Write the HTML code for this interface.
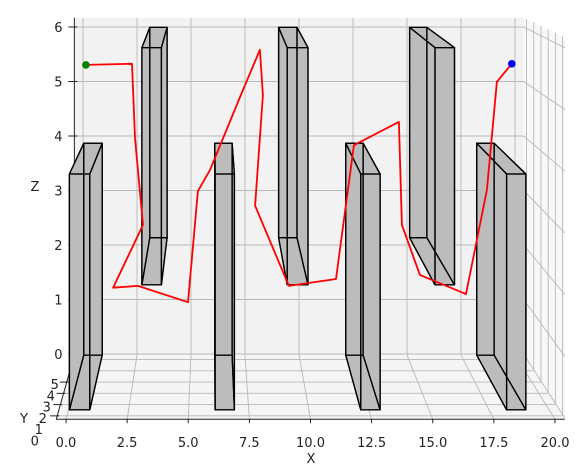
<!DOCTYPE html>
<html><head><meta charset="utf-8"><style>
html,body{margin:0;padding:0;background:#fff;}
svg{display:block;font-family:"DejaVu Sans","Liberation Sans",sans-serif;}
</style></head><body>
<svg id="chart" width="587" height="465" viewBox="0 0 587 465" xmlns="http://www.w3.org/2000/svg">
<g id="panes"></g>
<g id="grid"></g>
<g id="axes"></g>
<g id="boxes"></g>
<g id="path"></g>
</svg>
<script>
// ---- data ----
const xTicks = [0, 2.5, 5, 7.5, 10, 12.5, 15, 17.5, 20];
const xTickLabels = ["0.0","2.5","5.0","7.5","10.0","12.5","15.0","17.5","20.0"];
const yTicks = [0, 1, 2, 3, 4, 5];
const zTicks = [0, 1, 2, 3, 4, 5, 6];
// obstacles: [x0,x1,y0,y1,z0,z1]
const boxX0 = [0.05, 3.1, 6.1, 9.05, 12.15, 15.1, 18.2];
const boxX1 = [0.9, 3.9, 6.9, 9.9, 12.95, 15.9, 19.0];
const boxY0 = [2.42, 1.75, 2.42, 1.75, 2.42, 1.75, 2.42];
const boxY1 = [7.3, 7.3, 7.3, 7.3, 7.3, 7.3, 7.3];
const boxZ0 = [0, 2.15, 0, 2.15, 0, 2.15, 0];
const boxZ1 = [3.88, 6.0, 3.88, 6.0, 3.88, 6.0, 3.88];
// path
const pathX = [0.5,2.5,2.63,2.98,1.68,2.76,4.93,5.36,5.88,7.19,8.05,8.18,7.84,9.31,11.35,12.13,14.08,14.21,14.99,16.99,17.9,18.33,18.98];
const pathY = [4.5,4.5,4.5,4.5,4.5,4.5,4.5,4.5,4.5,4.5,4.5,4.5,4.5,4.5,4.5,4.5,4.5,4.5,4.5,4.5,4.5,4.5,4.5];
const pathZ = [5.53,5.55,4.27,2.78,1.70,1.73,1.45,3.36,3.72,4.98,5.79,5.01,3.11,1.73,1.85,4.15,4.55,2.78,1.92,1.59,3.38,5.24,5.55];

// ---- projection ----
const YF = 1.7, YB = 7.4;
function P(x, y, z) {
  const t = (y - YF) / (YB - YF);
  return [(66 + 24.45 * x) * (1 - t) + (83 + 21.6 * x) * t,
          (418 - 61.7 * z) * (1 - t) + (354 - 54.5 * z) * t];
}
const NS = "http://www.w3.org/2000/svg";
function mk(tag, attrs, parent) {
  const e = document.createElementNS(NS, tag);
  for (const k in attrs) e.setAttribute(k, attrs[k]);
  parent.appendChild(e);
  return e;
}
function pts(arr) { return arr.map(p => p[0].toFixed(1) + "," + p[1].toFixed(1)).join(" "); }
const XL = -0.4, XR = 20.4, ZB = -0.02, ZT = 6.17;

// panes
const panes = document.getElementById("panes");
let e;
e = mk("polygon", {points: pts([P(XL,YB,ZB),P(XR,YB,ZB),P(XR,YB,ZT),P(XL,YB,ZT)]), fill:"#f2f2f2"}, panes);


e = mk("polygon", {points: pts([P(XL,YF,ZB),P(XR,YF,ZB),P(XR,YB,ZB),P(XL,YB,ZB)]), fill:"#f5f5f5"}, panes);


e = mk("polygon", {points: pts([P(XR,YF,ZB),P(XR,YB,ZB),P(XR,YB,ZT),P(XR,YF,ZT)]), fill:"#f8f8f8"}, panes);



// grid
const grid = document.getElementById("grid");
function gl(a, b, name) {
  const l = mk("line", {x1:a[0], y1:a[1], x2:b[0], y2:b[1], stroke:"#b8b8b8", "stroke-width":0.9}, grid);
  
  
}
xTicks.forEach(x => { gl(P(x,YB,ZB), P(x,YB,ZT), "x-grid-back"); gl(P(x,YF,ZB), P(x,YB,ZB), "x-grid-floor"); });
zTicks.forEach(z => { gl(P(XL,YB,z), P(XR,YB,z), "z-grid-back"); gl(P(XR,YF,z), P(XR,YB,z), "z-grid-side"); });
[2,3,4,5,6,7].forEach(y => { gl(P(XL,y,ZB), P(XR,y,ZB), "y-grid-floor"); gl(P(XR,y,ZB), P(XR,y,ZT), "y-grid-side"); });

// axes
const axes = document.getElementById("axes");
function al(a, b, name) {
  const l = mk("line", {x1:a[0], y1:a[1], x2:b[0], y2:b[1], stroke:"#222", "stroke-width":1}, axes);
  
  
}
al(P(XL,YF,ZB), P(XR,YF,ZB), "x-axis-line");
al(P(XL,YF,ZB), P(XL,YB,ZB), "y-axis-line");
al(P(XL,YB,ZB), P(XL,YB,ZT), "z-axis-line");
function txt(s, x, y, anchor, name) {
  const t = mk("text", {x:x, y:y, "font-size":13, fill:"#222", "text-anchor":anchor}, axes);
  t.textContent = s;
  
  
}
xTicks.forEach((x, i) => {
  const p = P(x, YF, ZB);
  al([p[0], p[1]], [p[0], p[1] + 4], "x-tick");
  txt(xTickLabels[i], p[0], 447, "middle", "x-tick-label");
});
zTicks.forEach(z => {
  const p = P(XL, YB, z);
  al([p[0] - 6, p[1]], [p[0] + 3, p[1]], "z-tick");
  txt(String(z), p[0] - 16, p[1] + 5, "middle", "z-tick-label");
});
yTicks.forEach(y => {
  const p = P(XL, y, ZB);
  if (y >= 2) al([p[0] - 7, p[1]], [p[0] + 2, p[1]], "y-tick");
  txt(String(y), p[0] - 16 + y * 0.8, p[1] + 7, "middle", "y-tick-label");
});
txt("X", 311, 463, "middle", "x-axis-title");
txt("Y", 24, 423, "middle", "y-axis-title");
txt("Z", 35, 191, "middle", "z-axis-title");

// boxes
const boxes = document.getElementById("boxes");
boxX0.forEach((_, i) => {
  const x0 = boxX0[i], x1 = boxX1[i], y0 = boxY0[i], y1 = boxY1[i], z0 = boxZ0[i], z1 = boxZ1[i];
  const g = mk("g", {}, boxes);
  
  
  const faces = [
    [P(x0,y0,z0),P(x1,y0,z0),P(x1,y0,z1),P(x0,y0,z1)],
    [P(x0,y1,z0),P(x1,y1,z0),P(x1,y1,z1),P(x0,y1,z1)],
    [P(x0,y0,z1),P(x1,y0,z1),P(x1,y1,z1),P(x0,y1,z1)],
    [P(x0,y0,z0),P(x1,y0,z0),P(x1,y1,z0),P(x0,y1,z0)],
    [P(x0,y0,z0),P(x0,y1,z0),P(x0,y1,z1),P(x0,y0,z1)],
    [P(x1,y0,z0),P(x1,y1,z0),P(x1,y1,z1),P(x1,y0,z1)]
  ];
  faces.forEach(f => mk("polygon", {points: pts(f), fill:"#bcbcbc", stroke:"none"}, g));
  faces.forEach(f => mk("polygon", {points: pts(f), fill:"none", stroke:"#000", "stroke-width":1.3, "stroke-linejoin":"round"}, g));
});

// path
const pg = document.getElementById("path");
const pp = pathX.map((x, i) => P(x, pathY[i], pathZ[i]));
e = mk("polyline", {points: pts(pp), fill:"none", stroke:"#ff0000", "stroke-width":1.8, "stroke-linejoin":"round"}, pg);


const s = pp[0], t2 = pp[pp.length - 1];
e = mk("circle", {cx:s[0], cy:s[1], r:3.8, fill:"#008000"}, pg);


e = mk("circle", {cx:t2[0], cy:t2[1], r:3.8, fill:"#0000ff"}, pg);


</script>
</body></html>
